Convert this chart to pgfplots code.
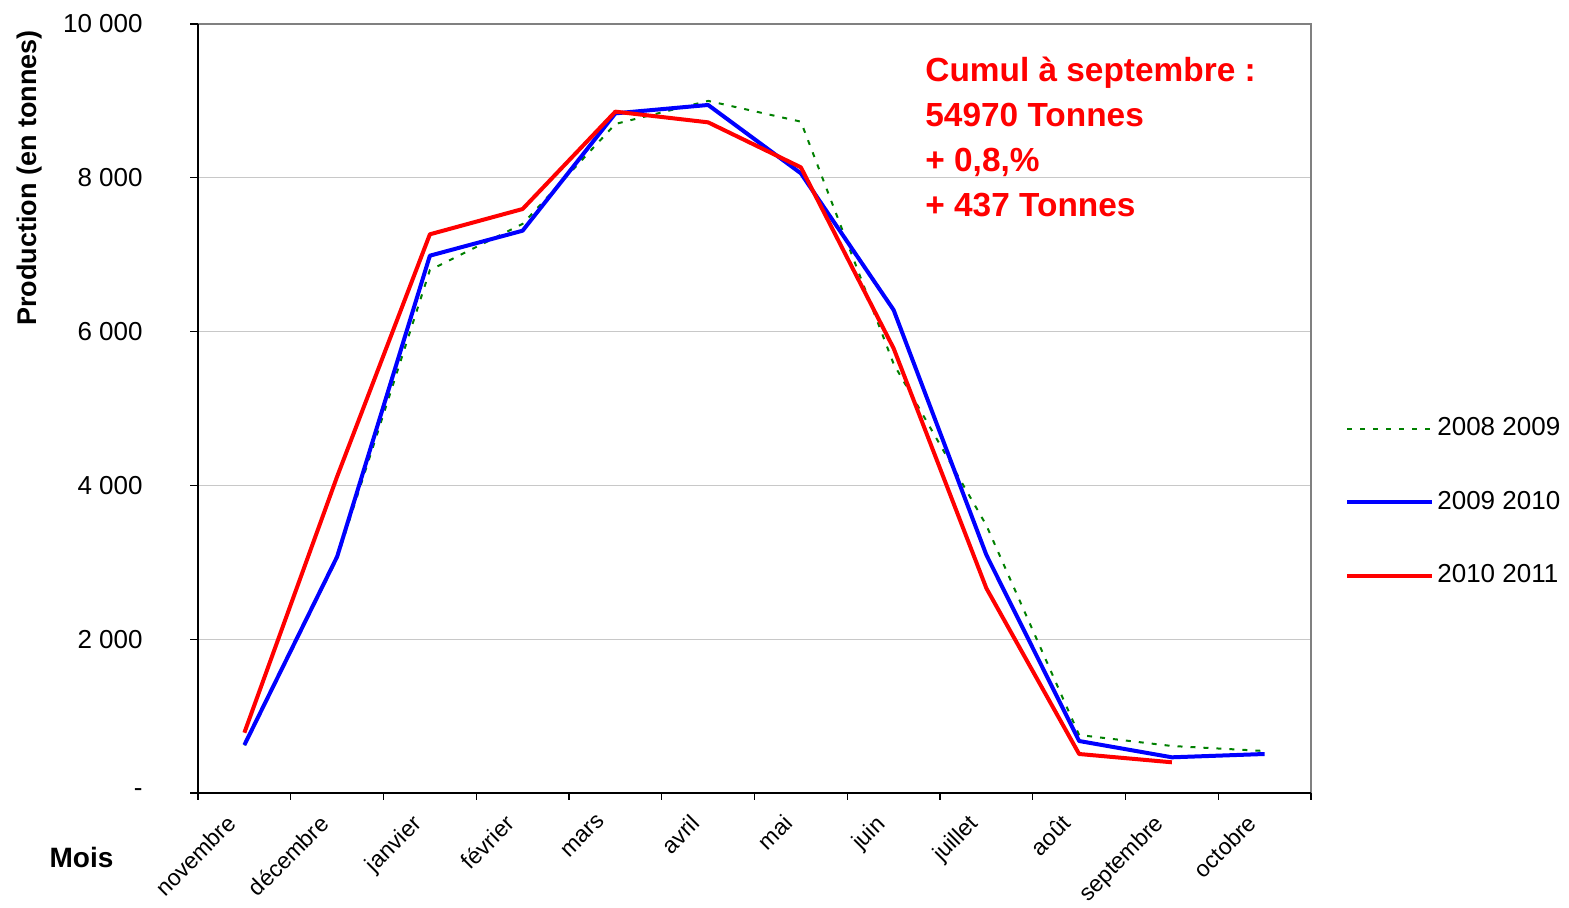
\documentclass[border=0pt]{standalone}
\usepackage{fontspec}
\setmainfont{Liberation Sans}
\usepackage{pgfplots}
\pgfplotsset{compat=1.18}
\definecolor{gridgray}{RGB}{200,200,200}
\definecolor{dgreen}{RGB}{0,128,0}
\begin{document}
\begin{tikzpicture}
\begin{axis}[
  at={(99pt,57.5pt)}, anchor=south west,
  scale only axis, width=556.5pt, height=384.5pt,
  xmin=-0.5, xmax=11.5, ymin=0, ymax=10000,
  clip=false,
  axis line style={draw=none},
  tick align=outside, tick pos=left,
  xtick={0,...,11},
  xticklabels={novembre,décembre,janvier,février,mars,avril,mai,juin,juillet,août,septembre,octobre},
  minor xtick={-0.5,0.5,...,11.5},
  major x tick style={draw=none},
  minor tick length=3.5pt, major tick length=4pt,
  ytick={0,2000,...,10000},
  scaled y ticks=false,
  yticklabels={-,2 000,4 000,6 000,8 000,10 000},
  ymajorgrids, grid style={gridgray, line width=0.5pt},
  tick style={black, line width=0.6pt},
  xticklabel style={font=\fontsize{11.5}{12}\selectfont, xshift=-9.4pt, yshift=-6pt, rotate=45, anchor=north east, inner sep=0pt},
  yticklabel style={font=\fontsize{13}{14}\selectfont, anchor=east, inner sep=0pt, xshift=-23.5pt},
  legend style={at={(axis description cs:1.0305,0.378)}, anchor=west, draw=none, fill=none,
    font=\fontsize{13}{14}\selectfont, row sep=24.75pt, inner sep=0pt,
    nodes={inner sep=0pt, text height=9.5pt, text depth=2.5pt},
    /tikz/every odd column/.append style={column sep=1.5pt}},
  legend cell align=left,
  legend image code/.code={\draw[#1] (0pt,0pt) -- (42.5pt,0pt);},
]
\addplot[dgreen, line width=1pt, dash pattern=on 2.5pt off 4pt, line join=round]
  coordinates {(0,620) (1,3050) (2,6800) (3,7400) (4,8700) (5,9000) (6,8730) (7,5580) (8,3480) (9,754) (10,611) (11,546)};
\addplot[blue, line width=2pt, line join=round]
  coordinates {(0,624) (1,3073) (2,6987) (3,7312) (4,8838) (5,8947) (6,8058) (7,6281) (8,3095) (9,676) (10,464) (11,507)};
\addplot[red, line width=2pt, line join=round]
  coordinates {(0,784) (1,4115) (2,7265) (3,7594) (4,8860) (5,8721) (6,8136) (7,5782) (8,2662) (9,507) (10,399)};
\legend{2008 2009, 2009 2010, 2010 2011}
% cadre : haut et droite gris, gauche et bas noirs
\draw[gray, line width=1pt] (rel axis cs:0,1) -- (rel axis cs:1,1) -- (rel axis cs:1,0);
\draw[black, line width=0.8pt] (rel axis cs:0,1) -- (rel axis cs:0,0) -- (rel axis cs:1,0);
\end{axis}
\node[rotate=90, font=\bfseries\fontsize{13.5}{14}\selectfont] at (14.8pt,365pt) {Production (en tonnes)};
\node[font=\bfseries\fontsize{14}{15}\selectfont] at (40.75pt,25pt) {Mois};
\node[anchor=north west, inner sep=0pt, align=left, text=red,
  font=\bfseries\fontsize{16.7}{22.5}\selectfont] at (462.5pt,425.5pt)
  {Cumul à septembre :\\54970 Tonnes\\+ 0,8,\%\\+ 437 Tonnes};
\pgfresetboundingbox
\path[use as bounding box] (0,0) rectangle (784.5pt,454pt);
\end{tikzpicture}
\end{document}
